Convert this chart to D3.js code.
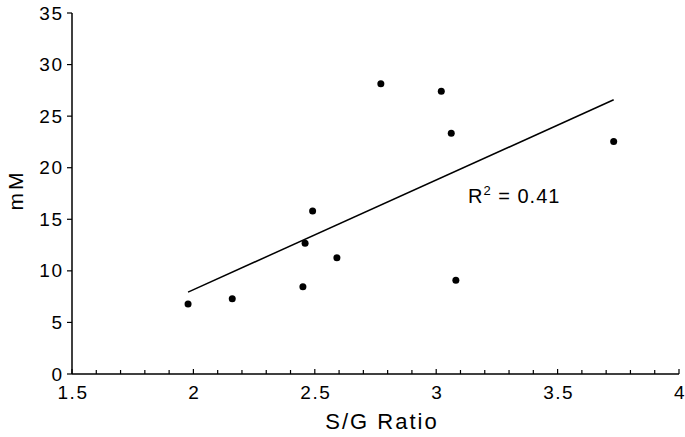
<!DOCTYPE html>
<html><head><meta charset="utf-8">
<script src="https://cdn.jsdelivr.net/npm/d3@7"></script>
<style>body{margin:0;background:#fff}svg{display:block}text{font-family:"Liberation Sans",Arial,sans-serif;fill:#000}</style>
</head><body><svg id="c" width="685" height="437"></svg>
<script>
const sgRatio = [1.978, 2.16, 2.451, 2.46, 2.491, 2.591, 3.081, 2.772, 3.021, 3.062, 3.731];
const mM      = [6.79, 7.3, 8.47, 12.67, 15.81, 11.28, 9.09, 28.13, 27.42, 23.34, 22.53];
const xTicks = [1.5, 2, 2.5, 3, 3.5, 4];
const yTicks = [0, 5, 10, 15, 20, 25, 30, 35];
const r2Label = "0.41";

const svg = d3.select("#c");
const x = d3.scaleLinear().domain([1.5, 4]).range([72, 679]);
const y = d3.scaleLinear().domain([0, 35]).range([374, 13]);

// x axis: major + minor ticks pointing up
const gx = svg.append("g").attr("transform", "translate(0,374)");
gx.append("line").attr("x1", x(1.5)).attr("x2", x(4)).attr("stroke", "#000").attr("stroke-width", 1.5);
const minor = d3.range(15, 41).map(d => d / 10);
gx.selectAll("line.m").data(minor).join("line").attr("class", "m")
  .attr("x1", d => x(d)).attr("x2", d => x(d))
  .attr("y1", 0).attr("y2", d => (Math.round(d * 10) % 5 === 0) ? -5 : -4)
  .attr("stroke", "#000").attr("stroke-width", 1.2);
gx.selectAll("text").data(xTicks).join("text")
  .attr("x", d => x(d) + 1).attr("y", 25).attr("text-anchor", "middle")
  .style("font-size", "19px").style("letter-spacing", "1.5px").text(d => d);

// y axis: ticks outside
const gy = svg.append("g").attr("transform", "translate(72,0)");
gy.append("line").attr("y1", y(0)).attr("y2", y(35)).attr("stroke", "#000").attr("stroke-width", 1.5);
gy.selectAll("line.t").data(yTicks).join("line").attr("class", "t")
  .attr("x1", -5).attr("x2", 0).attr("y1", d => y(d)).attr("y2", d => y(d))
  .attr("stroke", "#000").attr("stroke-width", 1.2);
gy.selectAll("text").data(yTicks).join("text")
  .attr("x", -8.5).attr("y", d => y(d) + 6.5).attr("text-anchor", "end")
  .style("font-size", "19px").style("letter-spacing", "1.5px").text(d => d);

// regression line from data
const mx = d3.mean(sgRatio), my = d3.mean(mM);
let sxy = 0, sxx = 0;
sgRatio.forEach((v, i) => { sxy += (v - mx) * (mM[i] - my); sxx += (v - mx) ** 2; });
const slope = sxy / sxx, icpt = my - slope * mx;
const x0 = d3.min(sgRatio), x1 = d3.max(sgRatio);
svg.append("line")
  .attr("x1", x(x0)).attr("y1", y(icpt + slope * x0))
  .attr("x2", x(x1)).attr("y2", y(icpt + slope * x1))
  .attr("stroke", "#000").attr("stroke-width", 1.5);

// points
svg.selectAll("circle").data(sgRatio).join("circle")
  .attr("cx", d => x(d)).attr("cy", (d, i) => y(mM[i])).attr("r", 3.5).attr("fill", "#000");

// R² label
const t = svg.append("text").attr("x", 468).attr("y", 203).style("font-size", "20px").style("letter-spacing", "1px");
t.append("tspan").text("R");
t.append("tspan").attr("dy", -8).style("font-size", "13px").text("2");
t.append("tspan").attr("dy", 8).text(" = " + r2Label);

// axis titles
svg.append("text").attr("x", 382).attr("y", 429).attr("text-anchor", "middle")
  .style("font-size", "22px").style("letter-spacing", "2px").text("S/G Ratio");
svg.append("text").attr("transform", "translate(23,190) rotate(-90)").attr("text-anchor", "middle")
  .style("font-size", "21px").style("letter-spacing", "3px").text("mM");
</script></body></html>
